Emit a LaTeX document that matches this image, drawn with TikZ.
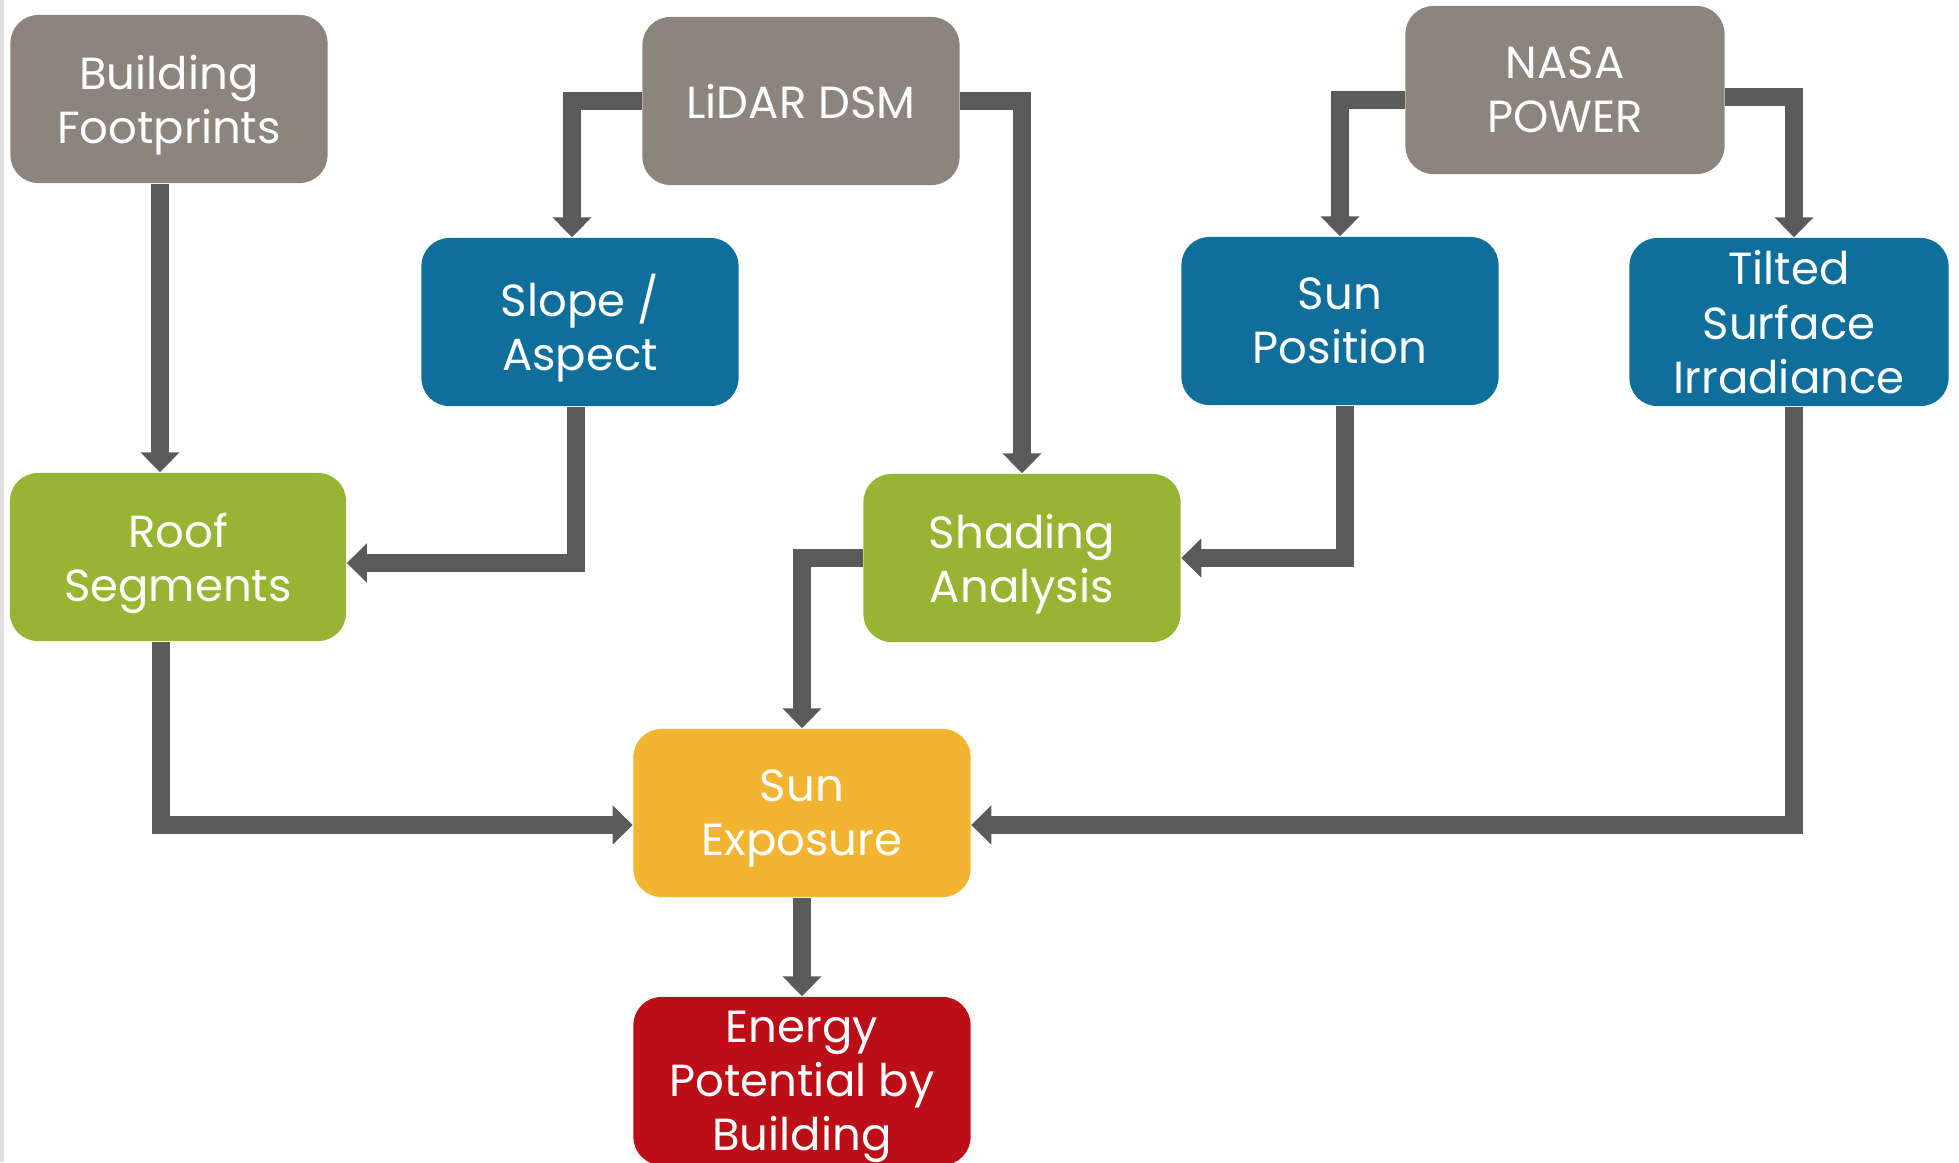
\documentclass[tikz,border=0pt]{standalone}
\usepackage{fontspec}
\setmainfont{Poppins}
\usetikzlibrary{arrows.meta, positioning, calc}
\usepackage{xcolor}
\definecolor{srcgray}{HTML}{8C857E}
\definecolor{procblue}{HTML}{106E9B}
\definecolor{leafgreen}{HTML}{97B433}
\definecolor{sunyellow}{HTML}{F2B431}
\definecolor{energyred}{HTML}{BC0E17}
\definecolor{linegray}{HTML}{5A5A5A}

\begin{document}
\begin{tikzpicture}[
        x=0.01cm, y=-0.01cm,
        font=\fontsize{12.8pt}{15.4pt}\selectfont,
        % Define styles for the nodes
        box/.style={rectangle, rounded corners=0.28cm, text=white, align=center, text depth=0pt, minimum width=3.17cm, minimum height=1.68cm, inner sep=0pt},
        source/.style={box, fill=srcgray},
        process/.style={box, fill=procblue},
        segment/.style={box, fill=leafgreen},
        exposure/.style={box, fill=sunyellow, minimum width=3.37cm},
        result/.style={box, fill=energyred, minimum width=3.37cm},
        myarrow/.style={-{Triangle[length=0.2cm, width=0.38cm]}, draw=linegray, line width=0.18cm}
    ]

        \clip (0,0) rectangle (1959,1162);
        \draw[black!12, line width=0.03cm] (2,0) -- (2,1162);

        % --- Nodes ---
        \node[source] (bf) at (169,99) {Building\\Footprints};
        \node[source] (lidar) at (801,101) {LiDAR DSM};
        \node[source, minimum width=3.19cm] (nasa) at (1565,90) {NASA\\POWER};

        \node[process] (slope) at (580,322) {Slope /\\Aspect};
        \node[process] (sunpos) at (1340,321) {Sun\\Position};
        \node[process, minimum width=3.19cm] (tilted) at (1789,322) {Tilted\\Surface\\Irradiance};

        \node[segment, minimum width=3.36cm] (roof) at (178,557) {Roof\\Segments};
        \node[segment] (shading) at (1022,558) {Shading\\Analysis};

        \node[exposure] (sunexp) at (802,813) {Sun\\Exposure};
        \node[result] (energy) at (802,1081) {Energy\\Potential by\\Building};

        % --- Edges ---
        \draw[myarrow] ([xshift=-0.09cm]bf.south) -- ([xshift=-0.09cm]bf.south |- roof.north);

        % 1. LiDAR to slope and shading
        \draw[myarrow] (lidar.west) -| ([xshift=-0.08cm]slope.north);
        \draw[myarrow] (lidar.east) -| (shading.north);

        % 2. NASA to sun position and irradiance
        \draw[myarrow] ([yshift=-0.1cm]nasa.west) -| (sunpos.north);
        \draw[myarrow] ([yshift=-0.07cm]nasa.east) -| ([xshift=0.05cm]tilted.north);

        \draw[myarrow] ([xshift=-0.04cm]slope.south) |- ([yshift=-0.06cm]roof.east);
        \draw[myarrow] ([xshift=0.05cm]sunpos.south) |- (shading.east);

        % 3. Everything into sun exposure
        \draw[myarrow] (shading.west) -| (sunexp.north);
        \draw[myarrow] ([xshift=-0.17cm]roof.south) |- ([yshift=-0.12cm]sunexp.west);
        \draw[myarrow] ([xshift=0.05cm]tilted.south) |- ([yshift=-0.12cm]sunexp.east);

        \draw[myarrow] (sunexp) -- (energy);

    \end{tikzpicture}
\end{document}
